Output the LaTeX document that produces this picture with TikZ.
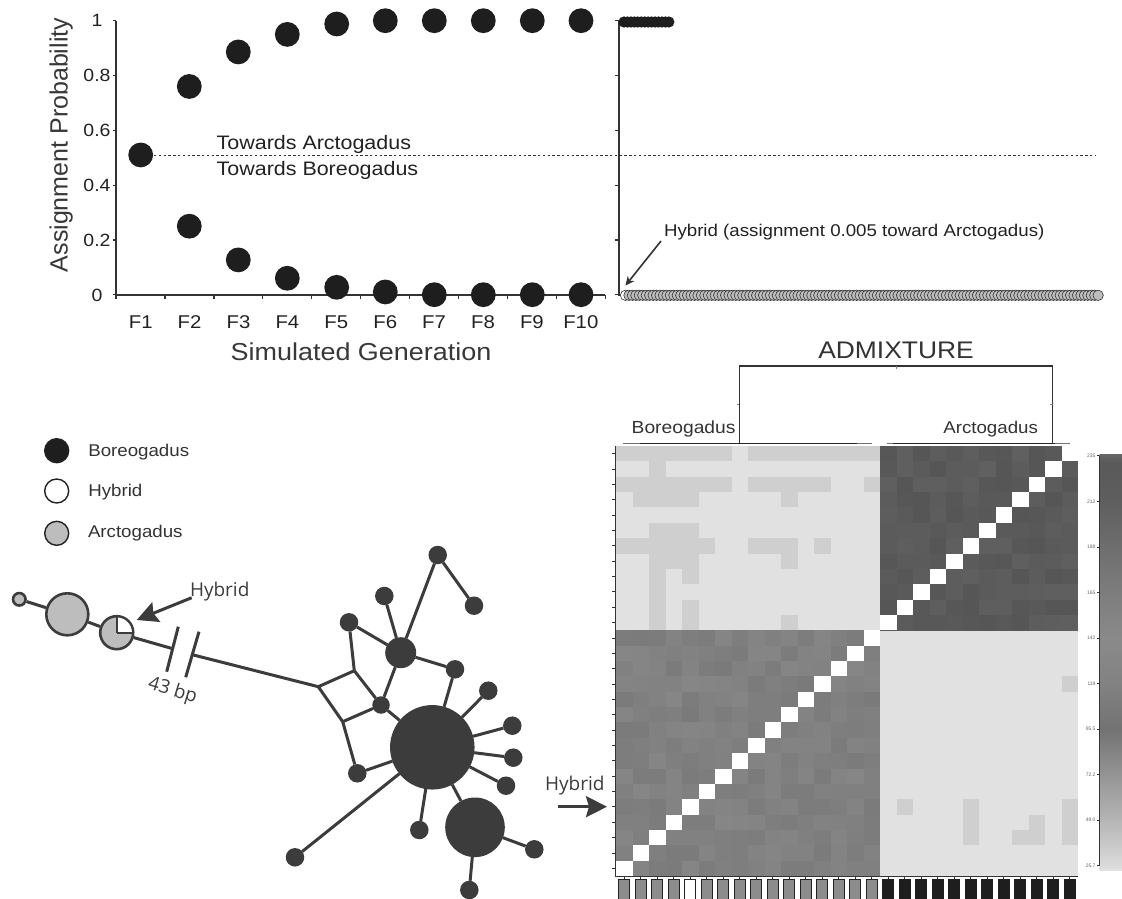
\documentclass[tikz,border=0pt]{standalone}
\usepackage{fontspec}
\setmainfont[FakeStretch=1.1]{Liberation Sans}
\newfontfamily\plainsans{Liberation Sans}
\newfontfamily\netfont{Open Sans}
\usetikzlibrary{arrows.meta}
\newcommand\setfs[1]{\fontsize{#1}{#1}\selectfont}
\definecolor{ink}{HTML}{222222}
\definecolor{axisc}{HTML}{333333}
\definecolor{dotc}{HTML}{1E1E1E}
\definecolor{netc}{HTML}{3C3C3C}
\definecolor{arcg}{HTML}{BDBDBD}
\definecolor{hlight}{HTML}{E1E1E1}
\definecolor{hdark}{HTML}{CFCFCF}
\definecolor{boxg}{HTML}{8C8C8C}
% a run of slightly darker cells in one heat-map row: row, first col, last col
\newcommand\lcells[3]{%
  \fill[hdark] ({616+16.5*#2},{446+15.357*#1}) rectangle ({616+16.5*(#3+1)},{446+15.357*(#1+1)});}
\begin{document}
\begin{tikzpicture}[x=1pt,y=-1pt,
  txt/.style={inner sep=0pt, outer sep=0pt, text=ink},
  netline/.style={netc, line width=3pt},
  smallnode/.style={circle, fill=netc, draw=none, minimum size=18.5pt, inner sep=0pt, outer sep=0pt},
  bignode/.style={circle, fill=netc, draw=none, inner sep=0pt, outer sep=0pt},
  greynode/.style={circle, fill=arcg, draw=netc, line width=2.6pt, inner sep=0pt},
  netarrow/.style={netc, line width=3pt, -{Stealth[length=21pt,width=21pt,inset=3pt]}},
  legdot/.style={circle, draw=ink, line width=1.4pt, minimum size=24pt, inner sep=0pt}]
\useasboundingbox (0,0) rectangle (1122,899);
\fill[white] (0,0) rectangle (1122,899);

% ================= assignment probability panel =================
\draw[axisc, line width=0.9pt, dash pattern=on 2.4pt off 2.4pt] (130,155.3) -- (1096,155.3);
\draw[axisc, line width=1.8pt] (116,20.7) -- (116,294.7) -- (605,294.7);
\draw[axisc, line width=1.8pt] (619,20.7) -- (619,296);
\foreach \v in {0,0.2,0.4,0.6,0.8,1}{
  \draw[axisc, line width=1.2pt] (112.5,{294.7-274*\v}) -- (116,{294.7-274*\v});
  \draw[axisc, line width=1.2pt] (615,{294.7-274*\v}) -- (619,{294.7-274*\v});
}
\foreach \v/\t in {0/0, 0.2/0.2, 0.4/0.4, 0.6/0.6, 0.8/0.8, 1/1}
  \node[txt, anchor=base, font=\setfs{17.7}] at (97,{301-274*\v}) {\t};
\foreach \i in {0,...,10}
  \draw[axisc, line width=1.2pt] ({116+48.95*\i},294.7) -- ++(0,4.5);
\foreach \i in {1,...,10}
  \node[txt, anchor=base, font=\setfs{18.5}] at ({140.7+48.9*(\i-1)},328.3) {F\i};
\node[txt, anchor=base, font=\setfs{24.5}, text=black!78] at (361,360) {Simulated Generation};
\node[txt, anchor=base, rotate=90, font=\plainsans\setfs{25}, text=black!78] at (67.5,145) {Assignment Probability};
\node[txt, anchor=base west, font=\setfs{19.5}] at (216.7,149) {Towards Arctogadus};
\node[txt, anchor=base west, font=\setfs{19.5}] at (216.7,175) {Towards Boreogadus};

\foreach \x/\v in {140.7/0.51, 189.3/0.76, 189.3/0.25, 238.3/0.886, 238.3/0.127,
                   287.3/0.95, 287.3/0.06, 336.7/0.988, 336.7/0.027, 385.3/1, 385.3/0.01,
                   434.3/1, 434.3/0, 483.3/1, 483.3/0, 532.3/1, 532.3/0, 581/1, 581/0}
  \fill[dotc] (\x,{294.7-274*\v}) circle[radius=12.4];

% individual assignments
\foreach \i in {0,...,13}
  \fill[dotc] ({624+3.45*\i},22) circle[radius=5.6];
\filldraw[fill=white, draw=axisc, line width=0.6pt] (625.5,295.3) circle[radius=5.2];
\foreach \i in {1,...,137}
  \filldraw[fill=arcg, draw=axisc, line width=0.6pt] ({625.5+3.45*\i},295.3) circle[radius=5.2];

\node[txt, anchor=base west, font=\setfs{17}] (hyt) at (664,236) {Hybrid (assignment 0.005 toward Arctogadus)};
\coordinate (hyA) at (661,241);
\coordinate (hyB) at (625.5,285.5);
\draw[axisc, line width=1.6pt, -{Stealth[length=9pt,width=8.5pt]}] (hyA) -- (hyB);

% ================= legend =================
\node[legdot, fill=dotc] (lb) at (56.7,450.7) {};
\node[legdot, fill=white] (lh) at (56.7,491) {};
\node[legdot, fill=arcg] (la) at (56.7,533.3) {};
\node[txt, anchor=base west, font=\setfs{17}, text=black!80] at (88.3,456) {Boreogadus};
\node[txt, anchor=base west, font=\setfs{17}, text=black!80] at (88.3,496) {Hybrid};
\node[txt, anchor=base west, font=\setfs{17}, text=black!80] at (88,537.3) {Arctogadus};

% ================= haplotype network =================
\node[greynode, minimum size=12.5pt] (A1) at (19.3,599.3) {};
\node[greynode, minimum size=42pt] (A2) at (67.3,614.3) {};
\node[greynode, minimum size=33pt] (H) at (116.7,632.7) {};
\coordinate (B1) at (172,648.5);
\coordinate (B2) at (191.5,654.5);
\coordinate (K1a) at (178.3,626.7);
\coordinate (K1b) at (166.7,671.7);
\coordinate (K2a) at (199,631.7);
\coordinate (K2b) at (185.7,677.3);
\coordinate (J1) at (318.3,686.7);
\coordinate (J2) at (354.3,670.7);
\coordinate (J4) at (342.7,721.7);
\node[smallnode, minimum size=17.5pt] (J3) at (381,705) {};
\node[smallnode] (N1) at (349,622.3) {};
\node[bignode, minimum size=31pt] (M1) at (400.7,652.7) {};
\node[smallnode] (N2) at (384.3,596) {};
\node[smallnode] (N3) at (437.7,555) {};
\node[smallnode] (N4) at (474,605.7) {};
\node[smallnode] (N5) at (455,669.3) {};
\node[bignode, minimum size=84.5pt] (BIG) at (432.3,747.3) {};
\node[smallnode] (N6) at (357.3,773.3) {};
\node[smallnode] (N7) at (488.3,690.7) {};
\node[smallnode] (N8) at (512.3,725.7) {};
\node[smallnode] (N9) at (513.3,757.7) {};
\node[smallnode] (N10) at (506,785.7) {};
\node[smallnode] (N11) at (419.3,830) {};
\node[bignode, minimum size=59.6pt] (M2) at (475,827.3) {};
\node[smallnode] (N12) at (534.3,849.3) {};
\node[smallnode] (N13) at (469.3,890) {};
\node[smallnode] (N14) at (295,857.3) {};

\draw[netline] (A1) -- (A2);
\draw[netline] (A2) -- (H);
\draw[netline] (H) -- (B1);
\draw[netline] (B2) -- (J1);
\draw[netline] (K1a) -- (K1b);
\draw[netline] (K2a) -- (K2b);
% the reticulation square
\draw[netline, line join=miter] (J4) -- (J1) -- (J2);
\draw[netline] (J2) -- (J3);
\draw[netline] (J3) -- (J4);
\draw[netline] (J4) -- (N6);
\draw[netline] (J2) -- (N1);
\draw[netline] (N1) -- (M1);
\draw[netline] (M1) -- (N2);
\draw[netline] (M1) -- (N3);
\draw[netline] (N3) -- (N4);
\draw[netline] (M1) -- (N5);
\draw[netline] (N5) -- (BIG);
\draw[netline] (M1) -- (J3);
\draw[netline] (J3) -- (BIG);
\draw[netline] (N6) -- (BIG);
\foreach \n in {N7,N8,N9,N10,N11,M2,N14}
  \draw[netline] (BIG) -- (\n);
\draw[netline] (M2) -- (N12);
\draw[netline] (M2) -- (N13);
% white quarter of the hybrid haplotype
\begin{scope}
  \clip (H.center) rectangle ++(17,-17);
  \fill[white] (H.center) circle[radius=15.2];
\end{scope}
\draw[netc, line width=2.4pt] (H.center) -- ++(0,-16.5);
\draw[netc, line width=2.4pt] (H.center) -- ++(16.5,0);
\node[txt, rotate=-17, font=\netfont\setfs{19}, text=netc] at (172.5,691) {43 bp};

\node[txt, anchor=base west, font=\netfont\setfs{19}, text=netc] (hnet) at (190,596) {Hybrid};
\coordinate (hn1) at (191.7,597.7);
\coordinate (hn2) at (136.7,620);
\draw[netarrow] (hn1) -- (hn2);

\node[txt, anchor=base west, font=\netfont\setfs{19}, text=netc] (hmap) at (545,790.7) {Hybrid};
\coordinate (hm1) at (558.3,806.7);
\coordinate (hm2) at (607,806.7);
\draw[netarrow] (hm1) -- (hm2);

% ================= ADMIXTURE heat map =================
\fill[hlight] (616,446) rectangle (1078,876);
\pgfmathsetseed{4711}
\foreach \r in {0,...,11}{
  \foreach \c in {16,...,27}{
    \pgfmathsetmacro\k{62.5+4*rnd}
    \fill[black!\k] ({616+16.5*\c},{446+15.357*\r}) rectangle ++(16.8,15.66);
  }
}
\foreach \r in {12,...,27}{
  \foreach \c in {0,...,15}{
    \pgfmathsetmacro\k{47.5+4.5*rnd}
    \fill[black!\k] ({616+16.5*\c},{446+15.357*\r}) rectangle ++(16.8,15.66);
  }
}
\lcells{0}{0}{6} \lcells{0}{8}{15}
\lcells{1}{2}{2}
\lcells{2}{0}{6} \lcells{2}{8}{12} \lcells{2}{15}{15}
\lcells{3}{1}{4} \lcells{3}{10}{10}
\lcells{5}{2}{4}
\lcells{6}{0}{5} \lcells{6}{8}{10} \lcells{6}{12}{12}
\lcells{7}{2}{4} \lcells{7}{10}{10}
\lcells{8}{2}{2} \lcells{8}{4}{4}
\lcells{9}{2}{2}
\lcells{10}{2}{2} \lcells{10}{4}{4}
\lcells{11}{2}{2} \lcells{11}{4}{4} \lcells{11}{10}{10}
\lcells{15}{27}{27}
\lcells{23}{17}{17} \lcells{23}{21}{21} \lcells{24}{21}{21} \lcells{25}{21}{21}
\lcells{24}{25}{25} \lcells{25}{24}{25}
\lcells{23}{27}{27} \lcells{24}{27}{27} \lcells{25}{27}{27}
% self-comparison diagonal
\foreach \r in {0,...,27}{
  \pgfmathtruncatemacro\c{27-\r}
  \fill[white] ({616+16.5*\c},{446+15.357*\r}) rectangle ++(16.5,15.357);
}
% frame and ticks
\draw[axisc, line width=1pt] (615.5,446) -- (615.5,876.5) -- (1078,876.5);
\foreach \r in {0,...,27}
  \draw[axisc, line width=0.8pt] (612,{446+15.357*(\r+0.5)}) -- (615.5,{446+15.357*(\r+0.5)});
\foreach \c in {0,...,27}
  \draw[axisc, line width=0.8pt] ({624.25+16.5*\c},876.5) -- ({624.25+16.5*\c},879);
% group boxes under the columns
\foreach \c in {0,...,15}
  \filldraw[fill=boxg, draw=ink, line width=1pt] ({618.75+16.5*\c},879) rectangle ++(11,21);
\filldraw[fill=white, draw=ink, line width=1pt] ({618.75+16.5*4},879) rectangle ++(11,21);
\foreach \c in {16,...,27}
  \filldraw[fill=dotc, draw=dotc, line width=1pt] ({618.75+16.5*\c},879) rectangle ++(11,21);

% dendrogram
\draw[black!55, line width=1.5pt] (623,443.5) -- (872,443.5);
\draw[black!55, line width=1.5pt] (887,443.5) -- (1070,443.5);
\draw[black!85, line width=1.5pt] (640,443.5) -- (857,443.5);
\draw[black!85, line width=1.5pt] (893,443.5) -- (1055,443.5);
\draw[axisc, line width=1.2pt] (739.3,443) -- (739.3,366) -- (1052.7,366) -- (1052.7,443);
\draw[black!50, line width=0.6pt] (896,366) -- (896,369);
\draw[black!50, line width=0.6pt] (736.5,404.3) -- (739.3,404.3);
\draw[black!50, line width=0.6pt] (1049.7,404.3) -- (1052.7,404.3);
\node[txt, anchor=base, font=\setfs{24}, text=black!80] at (896,358.3) {ADMIXTURE};
\node[txt, anchor=base west, font=\setfs{17.5}, text=black!80] at (631.7,433.3) {Boreogadus};
\node[txt, anchor=base west, font=\setfs{17}, text=black!80] at (943.3,433.3) {Arctogadus};

% colour scale
\foreach \ya/\ga/\yb/\gb in {454/40/463/35, 463/35/500/37, 500/37/546/43, 546/43/592/49,
                             592/49/638/54, 638/54/683/51, 683/51/729/45, 729/45/774/58,
                             774/58/820/71, 820/71/866/86, 866/86/870/88}
  \shade[top color=white!\ga!black, bottom color=white!\gb!black] (1099.5,\ya) rectangle (1122,{\yb+0.4});
\draw[axisc, line width=0.8pt] (1099,455.7) -- (1099,865.7);
\foreach \i/\t in {0/235, 1/212, 2/188, 3/165, 4/142, 5/119, 6/95.5, 7/72.2, 8/49.0, 9/25.7}{
  \draw[axisc, line width=0.6pt] (1096.5,{455.7+45.56*\i}) -- (1099,{455.7+45.56*\i});
  \node[txt, anchor=east, font=\plainsans\setfs{5}, text=black!60] at (1095.5,{455.7+45.56*\i}) {\t};
}
\end{tikzpicture}
\end{document}
